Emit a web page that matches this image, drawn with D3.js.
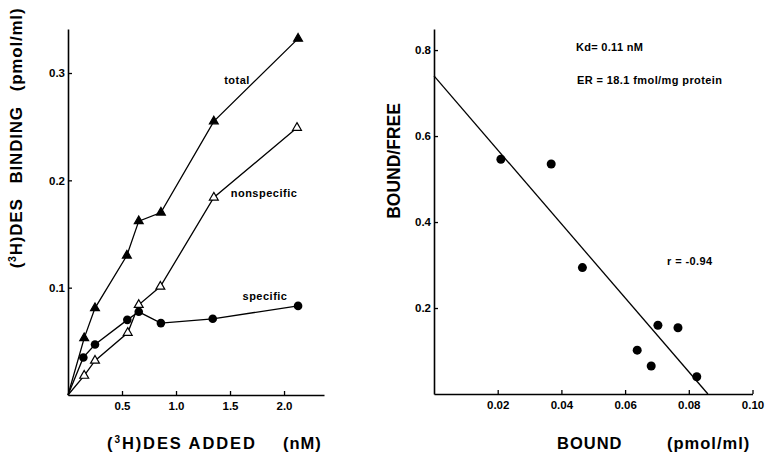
<!DOCTYPE html>
<html>
<head>
<meta charset="utf-8">
<script src="https://d3js.org/d3.v7.min.js"></script>
<style>
body { margin: 0; background: #fff; }
svg { display: block; font-family: "Liberation Sans", Arial, sans-serif; font-weight: bold; }
</style>
</head>
<body>
<svg width="768" height="452"></svg>
<script>
// left panel: (3H)DES binding vs (3H)DES added, nM / pmol/ml
var addedTotal = [0, 0.15, 0.25, 0.545, 0.655, 0.86, 1.35, 2.13];
var totalBinding = [0, 0.053, 0.081, 0.130, 0.162, 0.170, 0.255, 0.332];
var addedNonspecific = [0, 0.15, 0.25, 0.553, 0.655, 0.855, 1.35, 2.12];
var nonspecificBinding = [0, 0.018, 0.032, 0.058, 0.084, 0.101, 0.184, 0.249];
var addedSpecific = [0, 0.142, 0.25, 0.549, 0.655, 0.86, 1.34, 2.13];
var specificBinding = [0, 0.035, 0.047, 0.070, 0.0775, 0.067, 0.071, 0.083];
var leftXTicks = [0.5, 1.0, 1.5, 2.0];
var leftYTicks = [0.1, 0.2, 0.3];

// right panel: Scatchard plot
var bound = [0.021, 0.0368, 0.0466, 0.0638, 0.0682, 0.0703, 0.0766, 0.0825];
var boundFree = [0.546, 0.535, 0.294, 0.102, 0.065, 0.160, 0.154, 0.040];
var fitBound = [0, 0.086];
var fitRatio = [0.74, 0];
var rightXTicks = [0.02, 0.04, 0.06, 0.08, 0.10];
var rightYTicks = [0.2, 0.4, 0.6, 0.8];

var svg = d3.select('svg');

function styleAxis(g) {
    g.attr('font-family', null).attr('font-size', null);
    g.select('.domain').attr('stroke-width', 1.6);
    g.selectAll('.tick line').attr('stroke-width', 1.3);
    g.selectAll('.tick text').attr('font-size', 11.5).attr('font-weight', 'bold');
}

// ---- left panel ----
var xL = d3.scaleLinear().domain([0, 2.37]).range([68, 324]);
var yL = d3.scaleLinear().domain([0, 0.341]).range([395, 29]);

svg.append('g')
    .attr('transform', 'translate(0,' + yL(0) + ')')
    .call(d3.axisBottom(xL).tickValues(leftXTicks).tickFormat(d3.format('.1f'))
        .tickSizeInner(-4).tickSizeOuter(0).tickPadding(7))
    .call(styleAxis);
svg.append('g')
    .attr('transform', 'translate(' + xL(0) + ',0)')
    .call(d3.axisLeft(yL).tickValues(leftYTicks).tickFormat(d3.format('.1f'))
        .tickSizeInner(-4).tickSizeOuter(0).tickPadding(3))
    .call(styleAxis);

var lineL = d3.line()
    .x(function(d) { return xL(d[0]); })
    .y(function(d) { return yL(d[1]); });

var leftSeries = [
    {x: addedTotal, y: totalBinding, mark: 'tri', fill: '#000'},
    {x: addedNonspecific, y: nonspecificBinding, mark: 'tri', fill: '#fff'},
    {x: addedSpecific, y: specificBinding, mark: 'circle', fill: '#000'}
];

leftSeries.forEach(function(s) {
    var pts = d3.zip(s.x, s.y);
    svg.append('path')
        .attr('d', lineL(pts))
        .attr('fill', 'none')
        .attr('stroke', '#000')
        .attr('stroke-width', 1.3);
    var marks = pts.slice(1);
    if (s.mark === 'tri') {
        svg.selectAll(null).data(marks).enter()
            .append('path')
            .attr('d', d3.symbol().type(d3.symbolTriangle).size(34))
            .attr('transform', function(d) { return 'translate(' + [xL(d[0]), yL(d[1])] + ')'; })
            .attr('fill', s.fill)
            .attr('stroke', '#000')
            .attr('stroke-width', 1.2);
    } else {
        svg.selectAll(null).data(marks).enter()
            .append('circle')
            .attr('cx', function(d) { return xL(d[0]); })
            .attr('cy', function(d) { return yL(d[1]); })
            .attr('r', 4.3)
            .attr('fill', s.fill);
    }
});

svg.append('text').attr('x', 237).attr('y', 84).attr('text-anchor', 'middle')
    .attr('font-size', 11).attr('letter-spacing', 0.5).text('total');
svg.append('text').attr('x', 264).attr('y', 197).attr('text-anchor', 'middle')
    .attr('font-size', 11).attr('letter-spacing', 0.5).text('nonspecific');
svg.append('text').attr('x', 265).attr('y', 300).attr('text-anchor', 'middle')
    .attr('font-size', 11).attr('letter-spacing', 0.5).text('specific');

// left axis titles
var xTitleL = svg.append('text').attr('x', 107).attr('y', 449)
    .attr('font-size', 16.5).attr('letter-spacing', 1.9);
xTitleL.append('tspan').text('(');
xTitleL.append('tspan').attr('font-size', 10).attr('dy', -6).text('3');
xTitleL.append('tspan').attr('dy', 6).text('H)DES ADDED');
svg.append('text').attr('x', 283).attr('y', 449)
    .attr('font-size', 16.5).attr('letter-spacing', 1).text('(nM)');

var yTitleL = svg.append('text')
    .attr('transform', 'translate(22,138) rotate(-90)')
    .attr('text-anchor', 'middle')
    .attr('font-size', 17).attr('letter-spacing', 0.8);
yTitleL.append('tspan').text('(');
yTitleL.append('tspan').attr('font-size', 10.5).attr('dy', -6.5).text('3');
yTitleL.append('tspan').attr('dy', 6.5).text('H)DES\u2002 BINDING\u2002 (pmol/ml)');

// ---- right panel ----
var xR = d3.scaleLinear().domain([0, 0.1]).range([434, 752.5]);
var yR = d3.scaleLinear().domain([0, 0.849]).range([394, 29]);

svg.append('g')
    .attr('transform', 'translate(0,' + yR(0) + ')')
    .call(d3.axisBottom(xR).tickValues(rightXTicks).tickFormat(d3.format('.2f'))
        .tickSizeInner(-4).tickSizeOuter(0).tickPadding(7))
    .call(styleAxis);
svg.append('g')
    .attr('transform', 'translate(' + xR(0) + ',0)')
    .call(d3.axisLeft(yR).tickValues(rightYTicks).tickFormat(d3.format('.1f'))
        .tickSizeInner(-4).tickSizeOuter(0).tickPadding(3))
    .call(styleAxis);

svg.append('path')
    .attr('d', d3.line()
        .x(function(d) { return xR(d[0]); })
        .y(function(d) { return yR(d[1]); })(d3.zip(fitBound, fitRatio)))
    .attr('fill', 'none')
    .attr('stroke', '#000')
    .attr('stroke-width', 1.3);

svg.selectAll(null).data(d3.zip(bound, boundFree)).enter()
    .append('circle')
    .attr('cx', function(d) { return xR(d[0]); })
    .attr('cy', function(d) { return yR(d[1]); })
    .attr('r', 4.5)
    .attr('fill', '#000');

svg.append('text').attr('x', 576).attr('y', 51)
    .attr('font-size', 11).attr('letter-spacing', 0.3).text('Kd= 0.11 nM');
svg.append('text').attr('x', 577).attr('y', 84)
    .attr('font-size', 11).attr('letter-spacing', 0.4).text('ER = 18.1 fmol/mg protein');
svg.append('text').attr('x', 667).attr('y', 265)
    .attr('font-size', 11).attr('letter-spacing', 0.4).text('r = -0.94');

svg.append('text').attr('x', 557).attr('y', 449)
    .attr('font-size', 16.5).attr('letter-spacing', 1).text('BOUND');
svg.append('text').attr('x', 667).attr('y', 449)
    .attr('font-size', 16.5).attr('letter-spacing', 1).text('(pmol/ml)');
svg.append('text')
    .attr('transform', 'translate(400,161) rotate(-90)')
    .attr('text-anchor', 'middle')
    .attr('font-size', 17.5).text('BOUND/FREE');
</script>
</body>
</html>
